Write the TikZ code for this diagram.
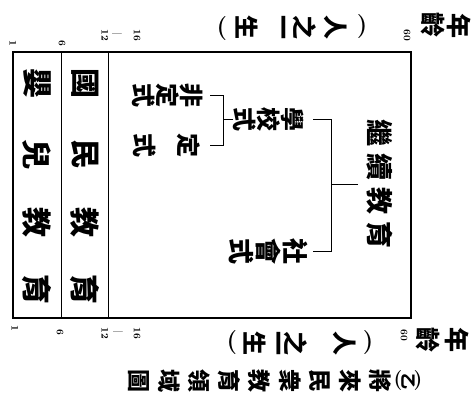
\documentclass[tikz,border=0pt]{standalone}
\usepackage{fontspec}
\usepackage{graphicx}
\newfontfamily\cjk{Noto Sans CJK TC}
\tikzset{
  cj/.style={font=\cjk\bfseries\fontsize{#1}{#1}\selectfont, inner sep=0pt, rotate=-90},
  cj/.default=24,
  cjst/.style={font=\cjk\bfseries\fontsize{#1}{#1}\selectfont, inner sep=0pt, rotate=-90, align=center},
  cjst/.default=24,
  capt/.style={font=\cjk\bfseries\fontsize{23}{23}\selectfont, inner sep=0pt, rotate=-90},
  paren/.style={font=\bfseries\fontsize{#1}{#1}\selectfont, inner sep=0pt},
  paren/.default=24,
  num/.style={font=\bfseries\fontsize{10}{10}\selectfont, inner sep=0pt, rotate=-90},
  numdash/.style={font=\bfseries\fontsize{8}{8}\selectfont, inner sep=0pt},
  frame/.style={line width=1.3pt},
  divider/.style={line width=1pt},
  link/.style={line width=1pt},
}
\begin{document}
\begin{tikzpicture}[x=1pt,y=-1pt]
\fill[white] (0,0) rectangle (473,407);
\useasboundingbox (0,0) rectangle (473,407);

% frame and age dividers
\draw[frame] (13,52) rectangle (411,318);
\draw[divider] (61,52) -- (61,318);
\draw[divider] (108,52) -- (108,318);

% age numbers, top
\node[num] (t1) at (13,43) {1};
\node[num] (t6) at (62,43) {6};
\node[num] (t12) at (105,35) {12};
\node[numdash] (tdash) at (117,35) {—};
\node[num] (t16) at (137,35) {16};
\node[num] (t60) at (407,35) {60};
% age numbers, bottom
\node[num] (b1) at (15,328) {1};
\node[num] (b6) at (60,332) {6};
\node[num] (b12) at (105,333) {12};
\node[numdash] (bdash) at (118,333) {—};
\node[num] (b16) at (137,333) {16};
\node[num] (b60) at (404,335) {60};

% 年齡
\node[cj=25] (ty1) at (459,26) {年};
\node[cj=25] (ty2) at (433,25) {齡};
\node[cj=25] (by1) at (457,340) {年};
\node[cj=25] (by2) at (428,340) {齡};

% (人之一生) top
\node[paren] (tlp) at (222,29) {(};
\node[paren] (trp) at (362,27) {)};
\foreach \c/\x [count=\i] in {人/336,之/305,一/280,生/247}
  \node[cj=24] (tl\i) at (\x,27) {\c};
% (人之一生) bottom
\node[paren] (blp) at (232,343) {(};
\node[paren] (brp) at (368,343) {)};
\foreach \c/\x [count=\i] in {人/345,之/296,一/275,生/255}
  \node[cj=24] (bl\i) at (\x,343) {\c};

% columns
\foreach \c/\y [count=\i] in {嬰/83,兒/154,教/222,育/289}
  \node[cj=30] (ca\i) at (37,\y) {\c};
\foreach \c/\y [count=\i] in {國/83,民/154,教/222,育/289}
  \node[cj=30] (cb\i) at (85,\y) {\c};

% tree
\node[cj=27] (jx) at (380,184) {繼\hspace{7pt}續\hspace{7pt}教\hspace{7pt}育};
\node[cjst=24] (xx) at (269,119) {學\\校\\式};
\node[cjst=26] (sh) at (268,251) {社\\[1pt]會\\[1pt]式};
\node[cjst=24] (fd) at (168,95) {非\\定\\式};
\node[cjst=24] (dd) at (167,145) {定\\[20pt]式};

\coordinate (bb) at (331,0);
\coordinate (bbl) at (313,0);
\coordinate (jxl) at (358,0);
\coordinate (sb) at (223,0);
\coordinate (sbl) at (210,0);

\draw[link] (jx -| jxl) -- (jx -| bb);
\draw[link] (xx -| bbl) -- (xx -| bb) -- (sh -| bb) -- (sh -| bbl);
\draw[link] (xx.south) -- (xx -| sb);
\draw[link] (fd -| sbl) -- (fd -| sb) -- (dd -| sb) -- (dd -| sbl);

% caption
\node[paren=20] (cpl) at (398,381) {(};
\node[font=\cjk\bfseries\fontsize{16}{16}\selectfont, inner sep=0pt, rotate=-90] (cz) at (408,381) {乙};
\node[paren=20] (cpr) at (418,381) {)};
\foreach \c/\x [count=\i] in {將/380,來/350,民/320,衆/290,教/259,育/229,領/199,域/169,圖/139}
  \node[capt] (cap\i) at (\x,381) {\c};
\end{tikzpicture}
\end{document}
